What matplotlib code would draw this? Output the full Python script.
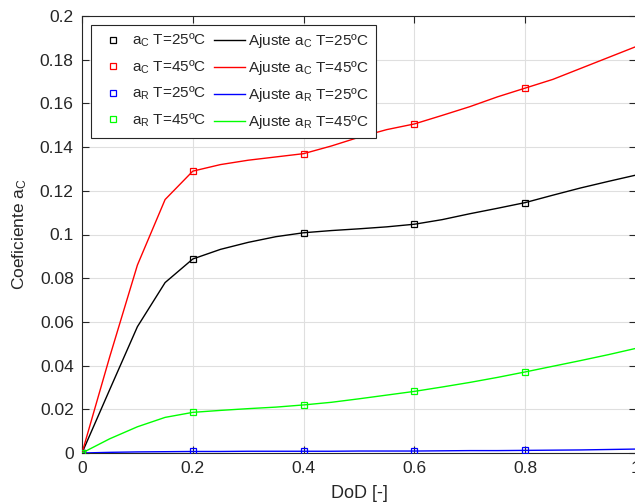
import matplotlib
matplotlib.use("Agg")
import matplotlib.pyplot as plt
from matplotlib.lines import Line2D

plt.rcParams['font.family'] = ['Liberation Sans', 'DejaVu Sans']
plt.rcParams['mathtext.fontset'] = 'custom'
plt.rcParams['mathtext.rm'] = 'Liberation Sans'
plt.rcParams['mathtext.it'] = 'Liberation Sans'
plt.rcParams['mathtext.default'] = 'rm'

# Measured points (DoD)
dod = [0.0, 0.2, 0.4, 0.6, 0.8]
ac_25 = [0.0, 0.0888, 0.1008, 0.1047, 0.1146]
ac_45 = [0.0, 0.129, 0.137, 0.1506, 0.1669]
ar_25 = [0.0, 0.0007, 0.0008, 0.0009, 0.0012]
ar_45 = [0.0, 0.0186, 0.0220, 0.0282, 0.0371]

# Fitted curves
dod_fit = [0.0, 0.05, 0.1, 0.15, 0.2, 0.25, 0.3, 0.35, 0.4, 0.45, 0.5,
           0.55, 0.6, 0.65, 0.7, 0.75, 0.8, 0.85, 0.9, 0.95, 1.0]
fit_ac_25 = [0.0, 0.029, 0.0578, 0.078, 0.0888, 0.0932, 0.0964, 0.099, 0.1008,
             0.1018, 0.1026, 0.1035, 0.1047, 0.1068, 0.1095, 0.112, 0.1146,
             0.118, 0.1213, 0.1243, 0.1272]
fit_ac_45 = [0.0, 0.044, 0.086, 0.116, 0.129, 0.132, 0.134, 0.1355, 0.137,
             0.1405, 0.1445, 0.148, 0.1506, 0.1545, 0.1585, 0.163, 0.167,
             0.171, 0.176, 0.181, 0.186]
fit_ar_25 = [0.0, 0.0003, 0.0005, 0.0006, 0.0007, 0.0007, 0.0008, 0.0008, 0.0008,
             0.0008, 0.0009, 0.0009, 0.0009, 0.001, 0.0011, 0.0011, 0.0012,
             0.0013, 0.0014, 0.0016, 0.0018]
fit_ar_45 = [0.0, 0.0065, 0.012, 0.0163, 0.0186, 0.0195, 0.0203, 0.021, 0.022,
             0.0232, 0.0248, 0.0265, 0.0282, 0.0302, 0.0323, 0.0346, 0.0371,
             0.0397, 0.0423, 0.045, 0.0479]

labels_data = ['a$_C$ T=25ºC', 'a$_C$ T=45ºC', 'a$_R$ T=25ºC', 'a$_R$ T=45ºC']
labels_fit = ['Ajuste a$_C$ T=25ºC', 'Ajuste a$_C$ T=45ºC',
              'Ajuste a$_R$ T=25ºC', 'Ajuste a$_R$ T=45ºC']
colors = ['#000000', '#FF0000', '#0000FF', '#00FF00']

yticks = [0, 0.02, 0.04, 0.06, 0.08, 0.1, 0.12, 0.14, 0.16, 0.18, 0.2]
ytick_labels = ['0', '0.02', '0.04', '0.06', '0.08', '0.1', '0.12', '0.14',
                '0.16', '0.18', '0.2']
xticks = [0, 0.2, 0.4, 0.6, 0.8, 1.0]
xtick_labels = ['0', '0.2', '0.4', '0.6', '0.8', '1']

W, H = 635, 504
fig = plt.figure(figsize=(W / 100, H / 100), dpi=100)
ax = fig.add_axes([82 / W, (H - 453) / H, (636 - 82) / W, (453 - 16) / H])

series_data = [ac_25, ac_45, ar_25, ar_45]
series_fit = [fit_ac_25, fit_ac_45, fit_ar_25, fit_ar_45]

for yf, c in zip(series_fit, colors):
    ax.plot(dod_fit, yf, color=c, lw=1.0, zorder=3)
for yd, c in zip(series_data, colors):
    ax.plot(dod, yd, linestyle='none', marker='s', markersize=5,
            markerfacecolor='none', markeredgecolor=c, markeredgewidth=0.9,
            zorder=4)

ax.set_xlim(0, 1)
ax.set_ylim(0, 0.2)
ax.set_xticks(xticks)
ax.set_xticklabels(xtick_labels)
ax.set_yticks(yticks)
ax.set_yticklabels(ytick_labels)
ax.grid(True, color='#dfdfdf', lw=0.8)
ax.set_axisbelow(True)

axis_col = '#262626'
for s in ax.spines.values():
    s.set_color(axis_col)
    s.set_linewidth(0.8)
ax.tick_params(direction='in', length=5, width=0.8, colors=axis_col,
               labelcolor=axis_col, labelsize=12.5, top=True, right=True,
               pad=6)

ax.set_xlabel('DoD [-]', fontsize=13, color=axis_col, labelpad=6)
ax.set_ylabel('Coeficiente a$_C$', fontsize=12.5, color=axis_col, labelpad=8)

handles = []
for c, lab in zip(colors, labels_data):
    handles.append(Line2D([], [], linestyle='none', marker='s', markersize=5,
                          markerfacecolor='none', markeredgecolor=c,
                          markeredgewidth=0.9, label=lab))
for c, lab in zip(colors, labels_fit):
    handles.append(Line2D([], [], color=c, lw=1.0, label=lab))

leg = ax.legend(handles=handles, ncol=2, loc='upper left',
                bbox_to_anchor=((91 - 82) / 554, (453 - 25) / 437),
                prop={'size': 11}, frameon=True, fancybox=False, framealpha=1,
                edgecolor=axis_col, borderpad=0.45, labelspacing=0.6,
                handlelength=2.0, handletextpad=0.25, columnspacing=0.5,
                borderaxespad=0)
leg.get_frame().set_linewidth(0.8)
for t in leg.get_texts():
    t.set_color(axis_col)

fig.savefig('out.png', dpi=100)
